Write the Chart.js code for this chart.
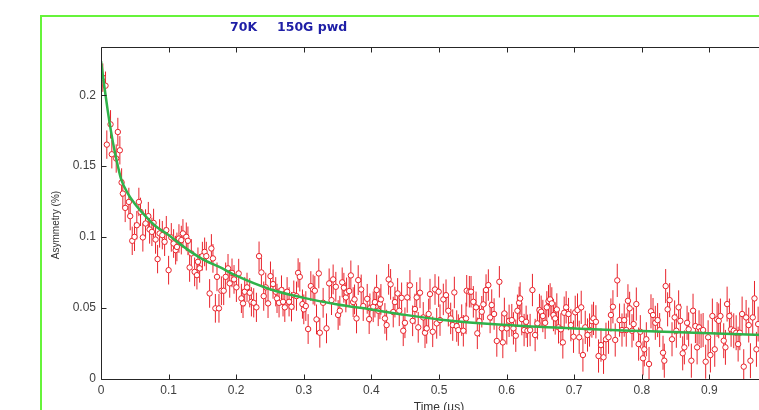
<!DOCTYPE html>
<html>
<head>
<meta charset="utf-8">
<title>70K 150G pwd</title>
<script src="https://cdn.jsdelivr.net/npm/chart.js@4.4.0/dist/chart.umd.min.js"></script>
<style>
  html, body { margin: 0; padding: 0; background: #fff; overflow: hidden; }
  #wrap { position: relative; width: 800px; height: 420px; }
</style>
</head>
<body>
<div id="wrap"><canvas id="asym-chart" width="800" height="420"></canvas></div>
<script>
// muon asymmetry, one entry per time bin (us)
const timeUs = [
  0.0027, 0.0067, 0.0086, 0.0141, 0.0160, 0.0225, 0.0249, 0.0279, 0.0305, 0.0323,
  0.0358, 0.0412, 0.0432, 0.0462, 0.0496, 0.0530, 0.0560, 0.0585, 0.0619, 0.0659,
  0.0700, 0.0719, 0.0753, 0.0778, 0.0807, 0.0837, 0.0867, 0.0907, 0.0941, 0.0966,
  0.1000, 0.1040, 0.1074, 0.1104, 0.1123, 0.1153, 0.1188, 0.1212, 0.1262, 0.1286,
  0.1311, 0.1336, 0.1385, 0.1419, 0.1434, 0.1459, 0.1500, 0.1533, 0.1558, 0.1607,
  0.1633, 0.1656, 0.1692, 0.1716, 0.1745, 0.1781, 0.1815, 0.1844, 0.1879, 0.1904,
  0.1938, 0.1968, 0.2003, 0.2037, 0.2077, 0.2101, 0.2126, 0.2160, 0.2200, 0.2225,
  0.2259, 0.2299, 0.2338, 0.2373, 0.2407, 0.2437, 0.2471, 0.2507, 0.2545, 0.2585,
  0.2604, 0.2634, 0.2670, 0.2693, 0.2719, 0.2753, 0.2782, 0.2818, 0.2852, 0.2892,
  0.2916, 0.2941, 0.2980, 0.3000, 0.3030, 0.3064, 0.3104, 0.3138, 0.3163, 0.3188,
  0.3222, 0.3237, 0.3286, 0.3336, 0.3375, 0.3410, 0.3434, 0.3474, 0.3508, 0.3533,
  0.3568, 0.3593, 0.3622, 0.3633, 0.3671, 0.3696, 0.3730, 0.3751, 0.3780, 0.3805,
  0.3849, 0.3879, 0.3938, 0.3967, 0.3978, 0.4027, 0.4052, 0.4077, 0.4101, 0.4126,
  0.4141, 0.4200, 0.4225, 0.4255, 0.4284, 0.4323, 0.4348, 0.4388, 0.4412, 0.4447,
  0.4471, 0.4496, 0.4530, 0.4570, 0.4610, 0.4644, 0.4670, 0.4693, 0.4719, 0.4767,
  0.4793, 0.4818, 0.4847, 0.4867, 0.4907, 0.4941, 0.4966, 0.4995, 0.5015, 0.5064,
  0.5104, 0.5138, 0.5173, 0.5203, 0.5227, 0.5262, 0.5286, 0.5336, 0.5360, 0.5400,
  0.5410, 0.5449, 0.5474, 0.5508, 0.5548, 0.5567, 0.5597, 0.5633, 0.5656, 0.5696,
  0.5730, 0.5756, 0.5780, 0.5815, 0.5855, 0.5893, 0.5929, 0.5944, 0.5967, 0.6003,
  0.6037, 0.6077, 0.6101, 0.6136, 0.6160, 0.6185, 0.6200, 0.6225, 0.6259, 0.6289,
  0.6308, 0.6348, 0.6382, 0.6422, 0.6456, 0.6486, 0.6511, 0.6536, 0.6570, 0.6595,
  0.6620, 0.6644, 0.6669, 0.6693, 0.6719, 0.6743, 0.6768, 0.6803, 0.6832, 0.6852,
  0.6881, 0.6916, 0.6951, 0.6990, 0.7015, 0.7049, 0.7074, 0.7104, 0.7129, 0.7163,
  0.7197, 0.7227, 0.7262, 0.7286, 0.7321, 0.7360, 0.7396, 0.7434, 0.7470, 0.7508,
  0.7543, 0.7573, 0.7607, 0.7637, 0.7671, 0.7707, 0.7740, 0.7770, 0.7795, 0.7820,
  0.7855, 0.7879, 0.7919, 0.7953, 0.7978, 0.8018, 0.8037, 0.8067, 0.8107, 0.8136,
  0.8166, 0.8200, 0.8234, 0.8264, 0.8314, 0.8333, 0.8353, 0.8382, 0.8412, 0.8447,
  0.8486, 0.8511, 0.8545, 0.8570, 0.8605, 0.8630, 0.8670, 0.8693, 0.8733, 0.8758,
  0.8793, 0.8818, 0.8847, 0.8877, 0.8907, 0.8945, 0.8981, 0.9015, 0.9044, 0.9079,
  0.9114, 0.9138, 0.9163, 0.9212, 0.9237, 0.9262, 0.9296, 0.9321, 0.9360, 0.9396,
  0.9425, 0.9450, 0.9484, 0.9508, 0.9543, 0.9582, 0.9607, 0.9641, 0.9667, 0.9696,
  0.9721
];
const asymmetry = [
  0.2124, 0.2067, 0.1652, 0.1795, 0.1584, 0.1554, 0.1741, 0.1612, 0.1385, 0.1307,
  0.1206, 0.1248, 0.1148, 0.0974, 0.1002, 0.1084, 0.1248, 0.1178, 0.0998, 0.1096,
  0.1148, 0.1054, 0.1037, 0.1100, 0.0983, 0.0845, 0.1026, 0.1014, 0.0967, 0.1049,
  0.0767, 0.0998, 0.0955, 0.0908, 0.0931, 0.0990, 0.0979, 0.1026, 0.1002, 0.0974,
  0.0786, 0.0885, 0.0755, 0.0732, 0.0826, 0.0780, 0.0866, 0.0896, 0.0866, 0.0603,
  0.0920, 0.0850, 0.0498, 0.0720, 0.0498, 0.0622, 0.0622, 0.0720, 0.0780, 0.0674,
  0.0748, 0.0702, 0.0646, 0.0744, 0.0568, 0.0533, 0.0615, 0.0646, 0.0608, 0.0544,
  0.0537, 0.0505, 0.0866, 0.0751, 0.0584, 0.0646, 0.0533, 0.0725, 0.0669, 0.0615,
  0.0568, 0.0537, 0.0627, 0.0544, 0.0505, 0.0615, 0.0544, 0.0509, 0.0591, 0.0584,
  0.0748, 0.0720, 0.0528, 0.0491, 0.0514, 0.0352, 0.0655, 0.0631, 0.0622, 0.0420,
  0.0744, 0.0326, 0.0537, 0.0357, 0.0674, 0.0556, 0.0702, 0.0650, 0.0451, 0.0481,
  0.0681, 0.0643, 0.0575, 0.0610, 0.0620, 0.0730, 0.0542, 0.0561, 0.0427, 0.0697,
  0.0631, 0.0514, 0.0565, 0.0422, 0.0498, 0.0509, 0.0542, 0.0627, 0.0481, 0.0530,
  0.0561, 0.0427, 0.0380, 0.0702, 0.0667, 0.0472, 0.0542, 0.0603, 0.0481, 0.0572,
  0.0340, 0.0396, 0.0575, 0.0660, 0.0410, 0.0493, 0.0575, 0.0364, 0.0608, 0.0434,
  0.0326, 0.0357, 0.0458, 0.0598, 0.0333, 0.0631, 0.0392, 0.0615, 0.0415, 0.0561,
  0.0591, 0.0481, 0.0427, 0.0380, 0.0610, 0.0373, 0.0345, 0.0415, 0.0340, 0.0427,
  0.0622, 0.0615, 0.0615, 0.0544, 0.0505, 0.0322, 0.0408, 0.0474, 0.0526, 0.0627,
  0.0662, 0.0434, 0.0521, 0.0458, 0.0268, 0.0685, 0.0357, 0.0258, 0.0462, 0.0357,
  0.0410, 0.0415, 0.0357, 0.0305, 0.0481, 0.0537, 0.0568, 0.0422, 0.0345, 0.0403,
  0.0340, 0.0345, 0.0627, 0.0310, 0.0392, 0.0486, 0.0474, 0.0444, 0.0396, 0.0505,
  0.0549, 0.0561, 0.0533, 0.0451, 0.0427, 0.0490, 0.0364, 0.0350, 0.0258, 0.0467,
  0.0505, 0.0458, 0.0380, 0.0298, 0.0470, 0.0486, 0.0294, 0.0505, 0.0169, 0.0364,
  0.0310, 0.0345, 0.0408, 0.0427, 0.0403, 0.0162, 0.0239, 0.0153, 0.0280, 0.0294,
  0.0451, 0.0509, 0.0275, 0.0695, 0.0415, 0.0345, 0.0415, 0.0345, 0.0551, 0.0498,
  0.0340, 0.0387, 0.0528, 0.0246, 0.0333, 0.0146, 0.0209, 0.0280, 0.0106, 0.0477,
  0.0451, 0.0396, 0.0415, 0.0345, 0.0185, 0.0129, 0.0655, 0.0491, 0.0556, 0.0280,
  0.0434, 0.0340, 0.0505, 0.0410, 0.0181, 0.0223, 0.0396, 0.0350, 0.0129, 0.0481,
  0.0373, 0.0223, 0.0364, 0.0340, 0.0345, 0.0122, 0.0294, 0.0169, 0.0444, 0.0209,
  0.0420, 0.0410, 0.0444, 0.0270, 0.0223, 0.0528, 0.0444, 0.0350, 0.0340, 0.0326,
  0.0246, 0.0326, 0.0458, 0.0087, 0.0434, 0.0380, 0.0129, 0.0434, 0.0568, 0.0209,
  0.0387
];
// statistical error, one value per 0.1 us slice
const errorBySlice = [0.0100, 0.0101, 0.0103, 0.0105, 0.0108, 0.0111, 0.0114, 0.0117, 0.0120, 0.0123];

// fitted relaxation curve
const fitTime = [0, 0.005, 0.01, 0.015, 0.02, 0.025, 0.03, 0.04, 0.05, 0.06, 0.08, 0.1, 0.12,
  0.15, 0.175, 0.2, 0.25, 0.3, 0.35, 0.4, 0.45, 0.5, 0.6, 0.7, 0.8, 0.9, 1.0];
const fitAsym = [0.224, 0.206, 0.189, 0.174, 0.161, 0.150, 0.1405, 0.1305, 0.1235, 0.1178, 0.108,
  0.1015, 0.094, 0.0845, 0.079, 0.0728, 0.0633, 0.0572, 0.0525, 0.0490, 0.0452, 0.0420,
  0.0380, 0.0356, 0.0338, 0.0322, 0.0308];

const xTicks = [0, 0.1, 0.2, 0.3, 0.4, 0.5, 0.6, 0.7, 0.8, 0.9, 1];
const yTicks = [0, 0.05, 0.1, 0.15, 0.2];

const points = timeUs.map((t, i) => ({ x: t, y: asymmetry[i] }));
const fitPoints = fitTime.map((t, i) => ({ x: t, y: fitAsym[i] }));

function errorAt(t) {
  return errorBySlice[Math.min(errorBySlice.length - 1, Math.floor(t * 10))];
}

const tickFont = { family: '"Liberation Sans", Arial, sans-serif', size: 12 };

// vertical error bars, drawn under the markers
const errorBars = {
  id: 'errorBars',
  beforeDatasetsDraw(chart) {
    const { ctx, chartArea: a, scales: { x, y } } = chart;
    ctx.save();
    ctx.beginPath();
    ctx.rect(a.left, a.top, a.width, a.height);
    ctx.clip();
    ctx.strokeStyle = '#e8232b';
    ctx.lineWidth = 1;
    points.forEach(p => {
      const e = errorAt(p.x);
      const px = x.getPixelForValue(p.x);
      ctx.beginPath();
      ctx.moveTo(px, y.getPixelForValue(p.y - e));
      ctx.lineTo(px, y.getPixelForValue(p.y + e));
      ctx.stroke();
    });
    ctx.restore();
  }
};

// box, inward ticks, outer green rule and text
const frame = {
  id: 'frame',
  beforeDraw(chart) {
    const ctx = chart.ctx;
    ctx.save();
    ctx.fillStyle = '#66f43a';
    ctx.fillRect(40, 15, chart.width - 40, 2);
    ctx.fillRect(40, 15, 2, chart.height - 15);
    ctx.restore();
  },
  afterDatasetsDraw(chart) {
    const { ctx, chartArea: a, scales: { x, y } } = chart;
    const L = Math.round(a.left) + 0.5, R = Math.round(a.right) + 0.5;
    const T = Math.round(a.top) + 0.5, B = Math.round(a.bottom) + 0.5;
    ctx.save();
    ctx.strokeStyle = '#262626';
    ctx.lineWidth = 1;
    ctx.beginPath();
    ctx.moveTo(L, B); ctx.lineTo(L, T); ctx.lineTo(R, T); ctx.lineTo(R, B); ctx.closePath();
    xTicks.forEach(v => {
      const px = Math.round(x.getPixelForValue(v)) + 0.5;
      ctx.moveTo(px, B); ctx.lineTo(px, B - 5);
      ctx.moveTo(px, T); ctx.lineTo(px, T + 5);
    });
    yTicks.forEach(v => {
      const py = Math.round(y.getPixelForValue(v)) + 0.5;
      ctx.moveTo(L, py); ctx.lineTo(L + 5, py);
      ctx.moveTo(R, py); ctx.lineTo(R - 5, py);
    });
    ctx.stroke();

    ctx.fillStyle = '#1e1ea6';
    ctx.font = 'bold 12.5px "DejaVu Sans"';
    ctx.textBaseline = 'alphabetic';
    ctx.fillText('70K', 230, 31);
    ctx.fillText('150G pwd', 277, 31);

    ctx.fillStyle = '#333';
    ctx.font = '10px "Liberation Sans"';
    ctx.textAlign = 'center';
    ctx.save();
    ctx.translate(58.5, 225);
    ctx.rotate(-Math.PI / 2);
    ctx.fillText('Asymmetry (%)', 0, 0);
    ctx.restore();

    ctx.font = '12px "Liberation Sans"';
    ctx.fillText('Time (µs)', (a.left + a.right) / 2, 410.5);
    ctx.restore();
  }
};

new Chart(document.getElementById('asym-chart'), {
  type: 'scatter',
  data: {
    datasets: [
      {
        type: 'line',
        label: 'fit',
        data: fitPoints,
        borderColor: '#2fb24a',
        borderWidth: 2.5,
        pointRadius: 0,
        cubicInterpolationMode: 'monotone',
        fill: false,
        order: 1
      },
      {
        label: '70K 150G pwd',
        data: points,
        showLine: false,
        pointStyle: 'circle',
        pointRadius: 2.7,
        borderWidth: 1,
        borderColor: '#e8232b',
        backgroundColor: '#ffffff',
        order: 2
      }
    ]
  },
  options: {
    responsive: false,
    devicePixelRatio: 1,
    animation: false,
    layout: { padding: { left: 0, top: 47, right: 23, bottom: 0 } },
    plugins: { legend: { display: false }, tooltip: { enabled: false }, title: { display: false } },
    scales: {
      x: {
        type: 'linear',
        position: 'bottom',
        min: 0,
        max: 1,
        afterBuildTicks: s => { s.ticks = xTicks.map(v => ({ value: v })); },
        afterFit: s => { s.height = 41; },
        grid: { display: false, drawTicks: false },
        border: { display: false },
        ticks: { font: tickFont, color: '#404040', padding: 4, maxRotation: 0, autoSkip: false, callback: v => String(v) }
      },
      y: {
        min: 0,
        max: 0.234,
        afterBuildTicks: s => { s.ticks = yTicks.map(v => ({ value: v })); },
        afterFit: s => { s.width = 101; },
        grid: { display: false, drawTicks: false },
        border: { display: false },
        ticks: { font: tickFont, color: '#404040', padding: 5, callback: v => String(v) }
      }
    }
  },
  plugins: [errorBars, frame]
});
</script>
</body>
</html>
